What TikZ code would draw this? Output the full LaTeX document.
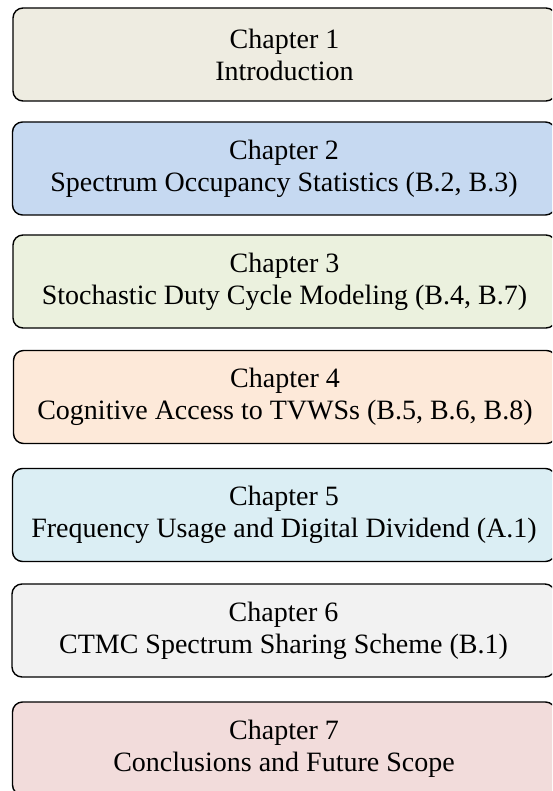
\documentclass[tikz,border=0pt]{standalone}
\usepackage{fontspec}
\setmainfont{Liberation Serif}
\definecolor{cA}{HTML}{EEECE1}
\definecolor{cB}{HTML}{C6D9F1}
\definecolor{cC}{HTML}{EBF1DE}
\definecolor{cD}{HTML}{FDE9D9}
\definecolor{cE}{HTML}{DBEEF4}
\definecolor{cF}{HTML}{F2F2F2}
\definecolor{cG}{HTML}{F2DCDB}
\tikzset{
  chapbox/.style={draw=black, line width=1.4pt, rounded corners=10pt,
    minimum width=543pt, minimum height=93pt, inner sep=0pt, outer sep=0pt,
    align=center, font=\fontsize{28}{32}\selectfont, text=black}
}
\begin{document}
\begin{tikzpicture}[x=1pt,y=-1pt]
\useasboundingbox (0,0) rectangle (552,791);
\clip (0,0) rectangle (552,791);
\fill[white] (0,0) rectangle (552,791);
\node[chapbox, fill=cA] (c1) at (284.5,54.5) {Chapter 1\\Introduction};
\node[chapbox, fill=cB] (c2) at (284,168.5) {Chapter 2\\Spectrum Occupancy Statistics (B.2, B.3)};
\node[chapbox, fill=cC] (c3) at (284.5,281.5) {Chapter 3\\Stochastic Duty Cycle Modeling (B.4, B.7)};
\node[chapbox, fill=cD] (c4) at (285,397) {Chapter 4\\Cognitive Access to TVWSs (B.5, B.6, B.8)};
\node[chapbox, fill=cE] (c5) at (284,515) {Chapter 5\\Frequency Usage and Digital Dividend (A.1)};
\node[chapbox, fill=cF] (c6) at (283.5,630.5) {Chapter 6\\CTMC Spectrum Sharing Scheme (B.1)};
\node[chapbox, fill=cG] (c7) at (284,748.5) {Chapter 7\\Conclusions and Future Scope};
\end{tikzpicture}
\end{document}
